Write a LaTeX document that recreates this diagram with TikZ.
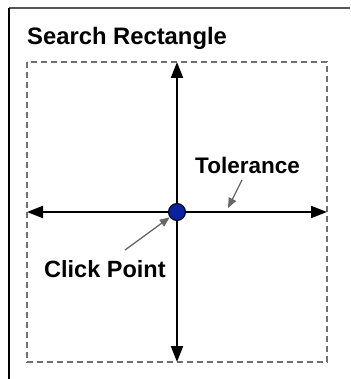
\documentclass[tikz,border=0pt]{standalone}
\usepackage{fontspec}
\setmainfont{Liberation Sans}
\usetikzlibrary{arrows.meta, positioning}
\definecolor{framegray}{HTML}{555555}
\definecolor{dashgray}{HTML}{707070}
\definecolor{pointblue}{HTML}{0A22A0}
\definecolor{pointergray}{HTML}{666666}
\tikzset{
  lbl/.style={
    font=\fontsize{23.5}{27}\selectfont\bfseries,
    inner sep=0pt, anchor=base west,
  },
  axis/.style={-{Triangle[length=16pt,width=12pt]}, line width=2pt, color=black},
  searchbox/.style={dash pattern=on 6pt off 4pt, draw=dashgray, line width=1.5pt},
  pointer/.style={-{Triangle[length=10pt,width=8pt]}, line width=1.3pt, color=pointergray},
  clickdot/.style={
    circle, minimum size=17pt, inner sep=0pt,
    fill=pointblue, draw=black, line width=1pt,
  },
}

\begin{document}
\begin{tikzpicture}[x=1pt,y=-1pt]
  \useasboundingbox (0,0) rectangle (350,379);

  % outer frame
  \draw[framegray, line width=2pt] (9,8) -- (350,8);
  \draw[black, line width=1.2pt] (9,8) -- (9,379);

  \node[lbl, font=\fontsize{23.8}{28}\selectfont\bfseries] (title) at (27,45) {Search Rectangle};

  % search rectangle
  \coordinate (nw) at (27,62);
  \coordinate (se) at (327,362);
  \draw[searchbox] (nw) rectangle (se);

  \node[clickdot] (click) at (177,212) {};
  \coordinate (up) at (177,62);
  \coordinate (down) at (177,362);
  \coordinate (left) at (27,212);
  \coordinate (right) at (327,212);

  \draw[axis] (click) -- (up);
  \draw[axis] (click) -- (down);
  \draw[axis] (click) -- (left);
  \draw[axis] (click) -- (right);

  \node[lbl, font=\fontsize{22.5}{26}\selectfont\bfseries] (tol) at (195,173) {Tolerance};
  \node[lbl] (clicklbl) at (44,277) {Click Point};
  \coordinate (tolfrom) at (242,180);
  \coordinate (tolto) at (228,208);
  \coordinate (clickfrom) at (125,250);

  \draw[pointer] (tolfrom) -- (tolto);
  \draw[pointer] (clickfrom) -- (click);

\end{tikzpicture}
\end{document}
